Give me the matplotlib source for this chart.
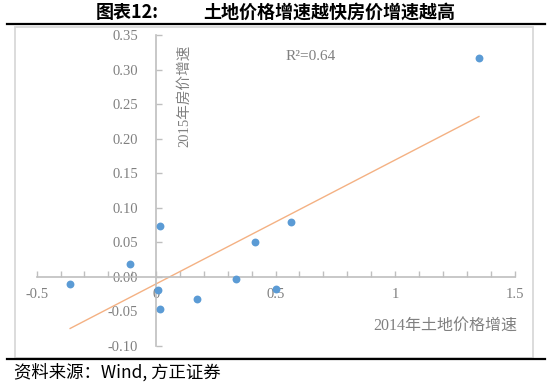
import numpy as np
import matplotlib
matplotlib.use("Agg")
import matplotlib.pyplot as plt
from matplotlib.patches import Rectangle
from matplotlib.lines import Line2D

# 2014 land price growth vs 2015 house price growth
land_growth = [-0.36, -0.11, 0.015, 0.008, 0.015, 0.172, 0.333, 0.414, 0.502, 0.564, 1.351]
house_growth = [-0.011, 0.018, 0.073, -0.019, -0.047, -0.032, -0.003, 0.051, -0.018, 0.080, 0.317]

x_ticks = [-0.5, 0, 0.5, 1, 1.5]
x_tick_labels = ["-0.5", "0", "0.5", "1", "1.5"]
y_ticks = [-0.10, -0.05, 0.00, 0.05, 0.10, 0.15, 0.20, 0.25, 0.30, 0.35]
y_tick_labels = ["%.2f" % v for v in y_ticks]

TITLE_NO = "图表12:"
TITLE = "土地价格增速越快房价增速越高"
X_LABEL = "2014年土地价格增速"
Y_LABEL = "2015年房价增速"
R2_TEXT = "R²=0.64"
SOURCE = "资料来源：Wind, 方正证券"

MIXED = ["Liberation Serif", "Noto Sans CJK SC", "DejaVu Sans"]
CJK = ["Noto Sans CJK SC", "DejaVu Sans"]
GRAY = "#808080"
AXIS_GRAY = "#BFBFBF"

plt.rcParams["font.family"] = MIXED

fig = plt.figure(figsize=(5.5, 3.84), dpi=100)
ax = fig.add_axes([0.0667, 0.099, 0.8688, 0.810])

ax.scatter(land_growth, house_growth, s=32, color="#5B9BD5", zorder=3, linewidths=0)

# linear trendline over the data range
k, b = np.polyfit(land_growth, house_growth, 1)
xs = np.array([min(land_growth), max(land_growth)])
ax.plot(xs, k * xs + b, color="#F4B183", lw=1.0, zorder=2)

ax.set_xlim(-0.5, 1.5)
ax.set_ylim(-0.10, 0.35)

for side in ["top", "right"]:
    ax.spines[side].set_visible(False)
ax.spines["left"].set_position(("data", 0))
ax.spines["bottom"].set_position(("data", 0))
for side in ["left", "bottom"]:
    ax.spines[side].set_color(AXIS_GRAY)
    ax.spines[side].set_linewidth(1.2)

ax.set_xticks(x_ticks)
ax.set_xticklabels(x_tick_labels)
ax.set_xticks(np.arange(-0.5, 1.51, 0.1), minor=True)
ax.set_yticks(y_ticks)
ax.set_yticklabels(y_tick_labels)

ax.tick_params(axis="x", which="both", direction="in", length=4, width=1,
               color=AXIS_GRAY, labelcolor=GRAY, labelsize=10.5, pad=8)
ax.tick_params(axis="y", which="both", direction="in", length=4, width=1,
               color=AXIS_GRAY, labelcolor=GRAY, labelsize=10.5, pad=13)

ax.text(0.117, 0.336, Y_LABEL, rotation=90, ha="center", va="top",
        color=GRAY, fontsize=10.5, family=MIXED)
ax.text(1.51, -0.070, X_LABEL, ha="right", va="center",
        color=GRAY, fontsize=11.5, family=MIXED)
ax.text(0.54, 0.319, R2_TEXT, ha="left", va="center",
        color=GRAY, fontsize=11, family=MIXED)

# outer frame and rules
fig.patches.append(Rectangle((15 / 550, 1 - 358 / 384), (533 - 15) / 550, (358 - 27) / 384,
                             transform=fig.transFigure, fill=False,
                             edgecolor="#D9D9D9", lw=1.3))
fig.lines.append(Line2D([0.012, 0.99], [1 - 24 / 384] * 2, transform=fig.transFigure,
                        color="black", lw=1.6))
fig.lines.append(Line2D([0.012, 0.99], [1 - 359 / 384] * 2, transform=fig.transFigure,
                        color="black", lw=1.6))

fig.text(96 / 550, 1 - 12 / 384, TITLE_NO, ha="left", va="center",
         fontsize=13, fontweight="bold", family=CJK)
fig.text(203 / 550, 1 - 12 / 384, TITLE, ha="left", va="center",
         fontsize=13, fontweight="bold", family=CJK)
fig.text(14 / 550, 1 - 372 / 384, SOURCE, ha="left", va="center",
         fontsize=12.5, style="italic", family=CJK)

fig.savefig("out.png", dpi=100)
